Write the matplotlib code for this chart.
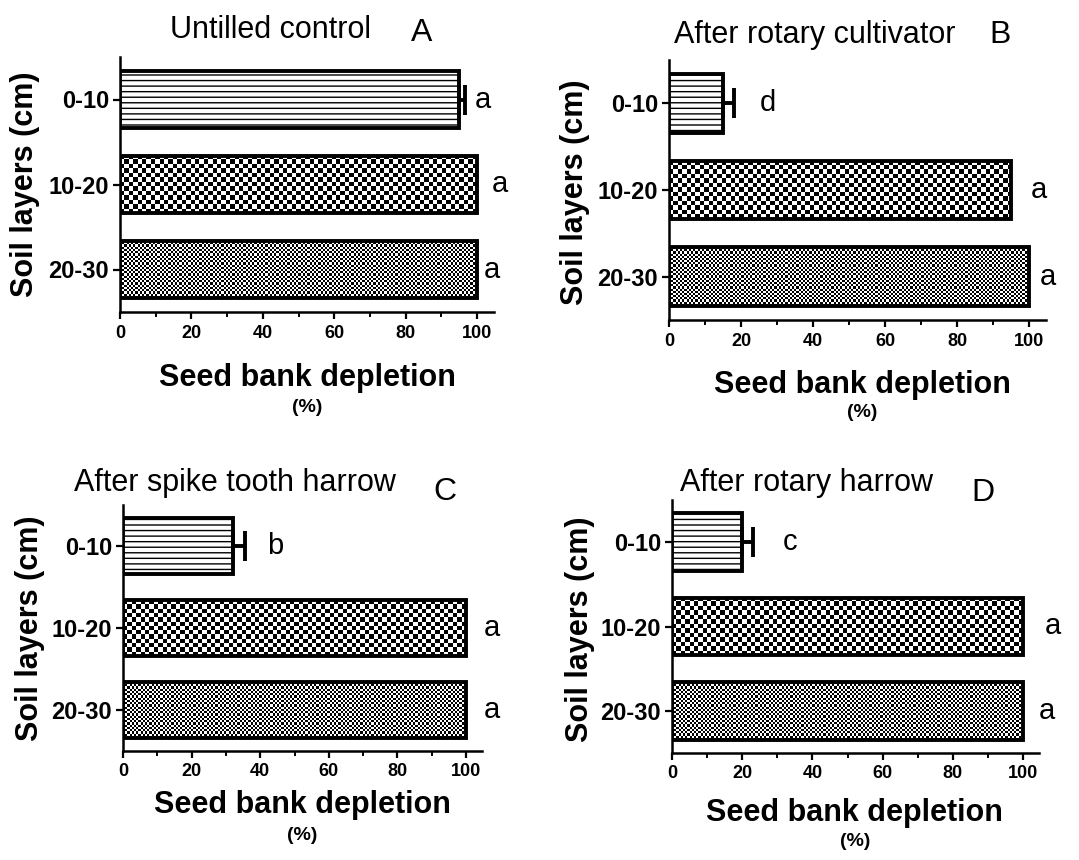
import matplotlib
matplotlib.use("Agg")
import matplotlib.pyplot as plt
import numpy as np

plt.rcParams["font.family"] = ["Liberation Sans", "DejaVu Sans"]
plt.rcParams["hatch.linewidth"] = 1.0

W, H, DPI = 1079, 860, 100

layers = ["0-10", "10-20", "20-30"]
panel_ids = ["A", "B", "C", "D"]
titles = ["Untilled control", "After rotary cultivator",
          "After spike tooth harrow", "After rotary harrow"]

# seed bank depletion (%) per soil layer, one list per panel
depl_a = [95, 100, 100]
depl_b = [15, 95, 100]
depl_c = [32, 100, 100]
depl_d = [20, 100, 100]
# upper standard error (only the top layer has one)
err_a = [1.7, 0, 0]
err_b = [3.0, 0, 0]
err_c = [3.5, 0, 0]
err_d = [3.0, 0, 0]
letters_a = ["a", "a", "a"]
letters_b = ["d", "a", "a"]
letters_c = ["b", "a", "a"]
letters_d = ["c", "a", "a"]

values = [depl_a, depl_b, depl_c, depl_d]
errors = [err_a, err_b, err_c, err_d]
letters = [letters_a, letters_b, letters_c, letters_d]

# layout in pixels: left, top, bottom of each axes; x unit width (px per 100 %)
XMAX = 104.7
LAYOUT = [
    dict(left=120, top=57, bottom=312, unit=357,
         title_xy=(270, 30), id_xy=(422, 33),
         xlab_xy=(307, 378), pct_xy=(307, 408), ylab_xy=(25, 184),
         letter_x=[101.7, 106.4, 104.2]),
    dict(left=669, top=60, bottom=320, unit=360,
         title_xy=(815, 35), id_xy=(1000, 35),
         xlab_xy=(862, 385), pct_xy=(862, 413), ylab_xy=(575, 192),
         letter_x=[27.5, 102.8, 105.3]),
    dict(left=123, top=505, bottom=751, unit=343,
         title_xy=(235, 483), id_xy=(445, 492),
         xlab_xy=(302, 805), pct_xy=(302, 835), ylab_xy=(30, 628),
         letter_x=[44.3, 107.6, 107.6]),
    dict(left=672, top=500, bottom=753, unit=351,
         title_xy=(806, 483), id_xy=(983, 493),
         xlab_xy=(854, 813), pct_xy=(855, 842), ylab_xy=(580, 629),
         letter_x=[33.6, 108.5, 106.8]),
]

BAR_H = 0.68
CELL = [None, 4.4, 2.2]   # checker cell size in px per layer (None = line hatch)


def fx(px):
    return px / W


def fy(py):
    return 1 - py / H


def checker(nx, ny):
    ii, jj = np.indices((ny, nx))
    return ((ii + jj) % 2).astype(float)


fig = plt.figure(figsize=(W / DPI, H / DPI), dpi=DPI)
fig.patch.set_facecolor("white")

for k, lay in enumerate(LAYOUT):
    width_px = lay["unit"] * XMAX / 100
    ax = fig.add_axes([fx(lay["left"]), fy(lay["bottom"]),
                       width_px / W, (lay["bottom"] - lay["top"]) / H])
    ax.set_xlim(0, XMAX)
    ax.set_ylim(2.5, -0.5)
    ypos = np.arange(len(layers))
    vals = values[k]

    for i, (y, v) in enumerate(zip(ypos, vals)):
        if CELL[i] is None:
            ax.barh(y, v, height=BAR_H, color="white", edgecolor="black",
                    lw=2.8, hatch="---", zorder=3)
        else:
            x0, y0 = ax.transData.transform((0, y - BAR_H / 2))
            x1, y1 = ax.transData.transform((v, y + BAR_H / 2))
            nx = max(1, int(round(abs(x1 - x0) / CELL[i])))
            ny = max(1, int(round(abs(y1 - y0) / CELL[i])))
            ax.imshow(checker(nx, ny), cmap="gray", interpolation="nearest",
                      extent=(0, v, y + BAR_H / 2, y - BAR_H / 2),
                      aspect="auto", zorder=2)
            ax.barh(y, v, height=BAR_H, color="none", edgecolor="black",
                    lw=2.8, zorder=3)
        e = errors[k][i]
        if e > 0:
            ax.errorbar(v, y, xerr=[[0], [e]], fmt="none", ecolor="black",
                        elinewidth=2.8, capsize=11, capthick=2.8, zorder=4)
        ax.text(lay["letter_x"][i], y, letters[k][i], ha="center", va="center",
                fontsize=21, color="black")

    ax.set_xlim(0, XMAX)
    ax.set_ylim(2.5, -0.5)
    ax.set_yticks(ypos)
    ax.set_yticklabels(layers, fontsize=17, fontweight="bold")
    ax.set_xticks([0, 20, 40, 60, 80, 100])
    ax.set_xticks([10, 30, 50, 70, 90], minor=True)
    ax.tick_params(axis="x", which="major", length=5, width=1.6, labelsize=13,
                   pad=4, direction="out")
    ax.tick_params(axis="x", which="minor", length=3.5, width=1.4, direction="out")
    ax.tick_params(axis="y", which="major", length=5, width=1.6, pad=3)
    for lab in ax.get_xticklabels():
        lab.set_fontweight("bold")
    ax.spines[["top", "right"]].set_visible(False)
    for s in ("left", "bottom"):
        ax.spines[s].set_linewidth(1.8)
    ax.set_facecolor("white")

    fig.text(fx(lay["title_xy"][0]), fy(lay["title_xy"][1]), titles[k],
             ha="center", va="center", fontsize=22)
    fig.text(fx(lay["id_xy"][0]), fy(lay["id_xy"][1]), panel_ids[k],
             ha="center", va="center", fontsize=23)
    fig.text(fx(lay["xlab_xy"][0]), fy(lay["xlab_xy"][1]), "Seed bank depletion",
             ha="center", va="center", fontsize=22, fontweight="bold")
    fig.text(fx(lay["pct_xy"][0]), fy(lay["pct_xy"][1]), "(%)",
             ha="center", va="center", fontsize=14, fontweight="bold")
    fig.text(fx(lay["ylab_xy"][0]), fy(lay["ylab_xy"][1]), "Soil layers (cm)",
             ha="center", va="center", fontsize=22, fontweight="bold",
             rotation=90)

fig.savefig("out.png", dpi=DPI, facecolor="white")
